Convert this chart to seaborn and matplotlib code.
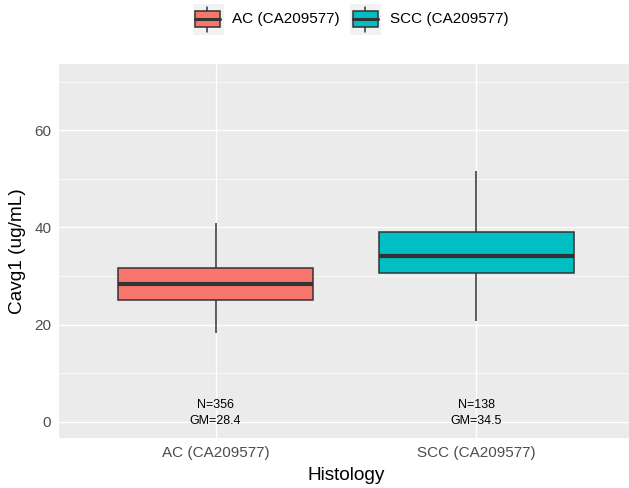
import numpy as np
import pandas as pd
import matplotlib
matplotlib.use("Agg")
import matplotlib.pyplot as plt
from matplotlib.patches import Rectangle
from matplotlib.lines import Line2D
import seaborn as sns

# Histology groups and five-number summaries of Cavg1 (ug/mL)
groups = ["AC (CA209577)", "SCC (CA209577)"]
whisker_low = [18.3, 20.8]
q1 = [25.0, 30.7]
median = [28.3, 34.1]
q3 = [31.7, 39.1]
whisker_high = [41.0, 51.5]
n_subjects = [356, 138]
geo_mean = [28.4, 34.5]
colors = ["#F8766D", "#00BFC4"]

# Long-form table: each group's summary points (whiskers span min..max)
rows = []
for i, g in enumerate(groups):
    for v in (whisker_low[i], q1[i], median[i], q3[i], whisker_high[i]):
        rows.append({"Histology": g, "Cavg1": v})
df = pd.DataFrame(rows)

sns.set_theme(style="darkgrid")
plt.rcParams["font.family"] = ["Liberation Sans", "DejaVu Sans"]

W, H = 629, 488
fig = plt.figure(figsize=(W / 100, H / 100), dpi=100)
fig.patch.set_facecolor("white")

def px(x, y):
    return x / W, 1 - y / H

ax = fig.add_axes([59 / W, (H - 438) / H, (633 - 59) / W, (438 - 64) / H])
ax.set_facecolor("#EBEBEB")

edge = "#333333"
sns.boxplot(
    data=df, x="Histology", y="Cavg1", hue="Histology",
    palette=colors, order=groups, hue_order=groups, saturation=1,
    width=0.75, whis=(0, 100), showcaps=False, linecolor=edge, linewidth=1.1,
    medianprops={"linewidth": 3.0, "color": edge},
    legend=False, ax=ax, zorder=3,
)

ax.set_xlim(-0.6, 1.6)
ax.set_ylim(-3.3, 73.6)
ax.set_yticks([0, 20, 40, 60])
ax.set_yticks([10, 30, 50, 70], minor=True)
ax.grid(which="major", color="white", linewidth=1.0)
ax.grid(which="minor", axis="y", color="white", linewidth=0.5)
ax.set_axisbelow(True)
for s in ax.spines.values():
    s.set_visible(False)
ax.tick_params(axis="both", which="major", colors="#333333", length=3, width=1.0,
               labelsize=11, labelcolor="#4D4D4D", pad=2.5)
ax.tick_params(axis="both", which="minor", length=0)

ax.set_xlabel("Histology", fontsize=13.7, color="black", va="center")
ax.xaxis.set_label_coords(0.5, (438 - 475) / (438 - 64))
ax.set_ylabel("Cavg1 (ug/mL)", fontsize=13.7, color="black", va="center")
ax.yaxis.set_label_coords((18 - 59) / (633 - 59), 0.5)

# Per-group sample size and geometric mean annotations
for i in range(len(groups)):
    ax.text(i, 1.9, f"N={n_subjects[i]}\nGM={geo_mean[i]}", ha="center", va="center",
            fontsize=9, color="black", linespacing=1.45, zorder=4)

# Legend on top with boxplot key glyphs
keys = [(192.5, 207, 232), (350, 365, 390.5)]
for (kx, cx, tx), g, c in zip(keys, groups, colors):
    x0, y0 = px(kx, 35)
    fig.patches.append(Rectangle((x0, y0), 31 / W, 31 / H, transform=fig.transFigure,
                                 facecolor="#F2F2F2", edgecolor="none"))
    bx, by = px(cx - 12.5, 26.7)
    fig.patches.append(Rectangle((bx, by), 25 / W, 15.7 / H, transform=fig.transFigure,
                                 facecolor=c, edgecolor=edge, linewidth=1.1, zorder=3))
    ex, ey1 = px(cx, 6.7)
    _, ey2 = px(cx, 11)
    _, ey3 = px(cx, 26.7)
    _, ey4 = px(cx, 32.3)
    fig.lines.append(Line2D([ex, ex], [ey1, ey2], transform=fig.transFigure, color=edge, lw=1.1))
    fig.lines.append(Line2D([ex, ex], [ey3, ey4], transform=fig.transFigure, color=edge, lw=1.1))
    lx1, ly = px(cx - 12.5, 19)
    lx2, _ = px(cx + 12.5, 19)
    fig.lines.append(Line2D([lx1, lx2], [ly, ly], transform=fig.transFigure, color=edge, lw=2.2,
                            zorder=4))
    tx0, ty0 = px(tx, 19.5)
    fig.text(tx0, ty0, g, ha="left", va="center", fontsize=11, color="black")

fig.savefig("out.png", dpi=100)
